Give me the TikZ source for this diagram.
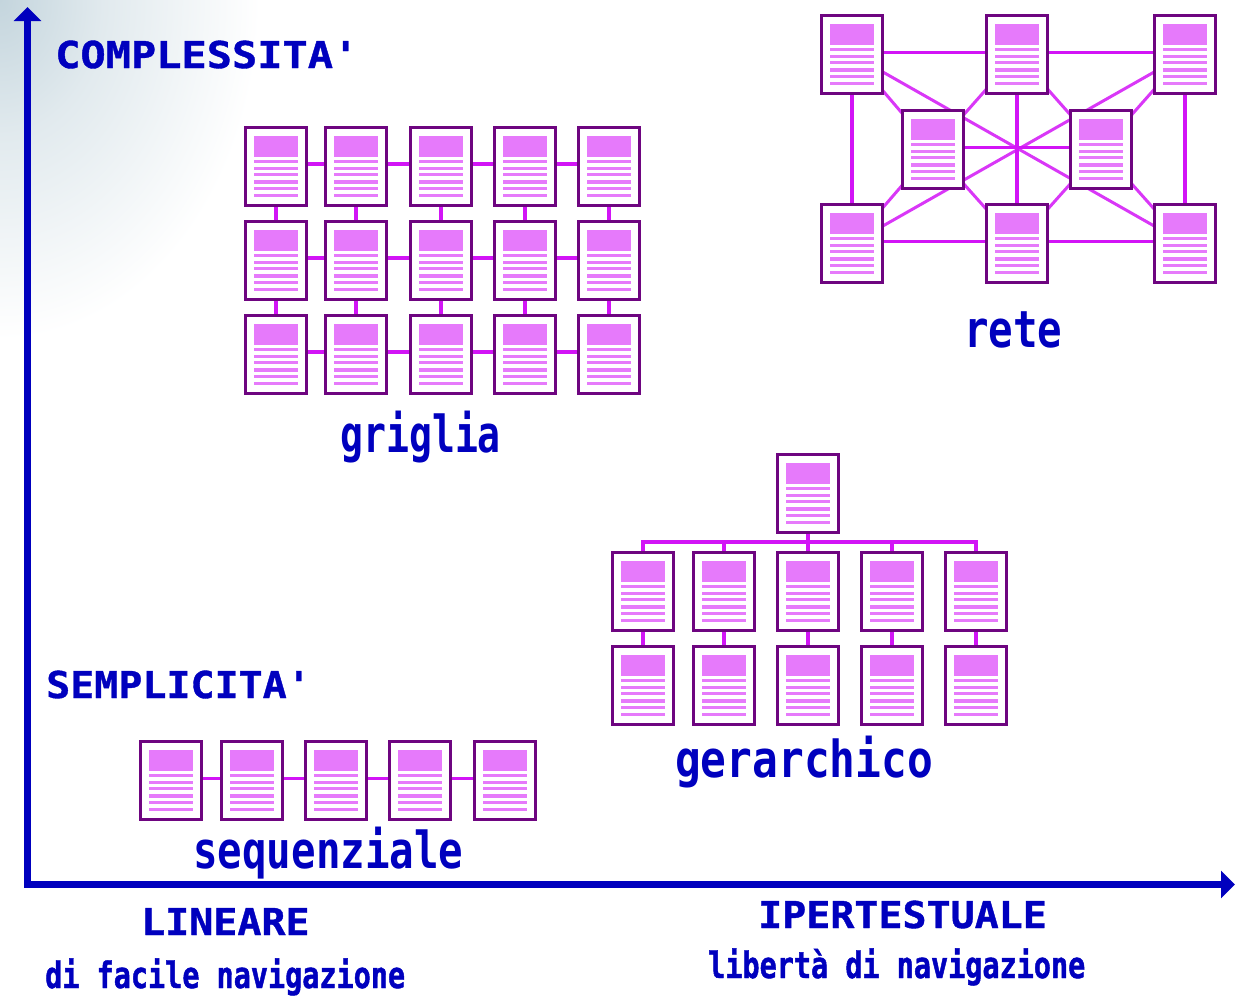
\documentclass[tikz,border=0pt]{standalone}
\usepackage{fontspec}
\usetikzlibrary{arrows.meta,backgrounds}
\newfontfamily\grandefont[FakeStretch=0.8]{DejaVu Sans Mono Bold}
\newfontfamily\piccolofont[FakeStretch=0.78,FakeBold=1.2]{DejaVu Sans Mono Bold}
\newfontfamily\maiuscfont[FakeStretch=1.08,FakeBold=1]{DejaVu Sans Mono Bold}
\definecolor{bordo}{HTML}{6E0580}
\definecolor{rosa}{HTML}{E67AFB}
\definecolor{legame}{HTML}{D214F6}
\definecolor{blu}{HTML}{0000BE}
\definecolor{sfondo}{HTML}{C4D5DD}
\pgfdeclareradialshading{alone}{\pgfpoint{0bp}{0bp}}{color(0bp)=(sfondo); color(10bp)=(sfondo!50!white); color(25bp)=(white); color(50bp)=(white)}
\tikzset{
	pagina/.style={draw=bordo, fill=white, line width=3.4pt, inner sep=0pt, minimum width=60.6pt, minimum height=77.6pt,
		path picture={
			\fill[rosa] ([shift={(-22pt,9.5pt)}]path picture bounding box.center) rectangle ([shift={(22pt,30.5pt)}]path picture bounding box.center);
			\foreach \l in {5.2,-1.8,-8.2,-15.5,-21.8,-28.8}
				\fill[rosa] ([shift={(-22pt,\l pt-1.7pt)}]path picture bounding box.center) rectangle ([shift={(22pt,\l pt+1.7pt)}]path picture bounding box.center);
		}},
	legame/.style={draw=legame, line width=3.4pt},
	diagonale/.style={draw=legame!85!white, line width=3pt},
	asse/.style={draw=blu, line width=7pt, {Triangle[length=14pt,width=27pt]}-{Triangle[length=14pt,width=27pt]}},
	grande/.style={text=blu, anchor=base west, inner sep=0pt, font=\fontsize{51}{51}\grandefont},
	piccolo/.style={text=blu, anchor=base west, inner sep=0pt, font=\fontsize{36.5}{36.5}\piccolofont},
	maiusc/.style={text=blu, anchor=base west, inner sep=0pt, font=\fontsize{37}{37}\maiuscfont}
}
\begin{document}
\begin{tikzpicture}[x=1pt, y=-1pt]
	\useasboundingbox (0,0) rectangle (1235,996);
	% griglia
	\foreach \y [count=\r] in {166.5,260.5,354.5}
		\foreach \x [count=\c] in {276,356,441,525,609}
			\node[pagina] (G\r\c) at (\x,\y) {};
	\foreach \r in {1,2,3}
		\foreach \c/\d in {1/2,2/3,3/4,4/5}
			\draw[legame] ([yshift=2.5pt]G\r\c.east)--([yshift=2.5pt]G\r\d.west);
	\foreach \c in {1,...,5}
		\draw[legame] (G1\c.south)--(G2\c.north) (G2\c.south)--(G3\c.north);
	% rete
	\node[pagina] (R1) at (852,54.5) {};
	\node[pagina] (R2) at (1017,54.5) {};
	\node[pagina] (R3) at (1185,54.5) {};
	\node[pagina] (R4) at (933,149.5) {};
	\node[pagina] (R5) at (1101,149.5) {};
	\node[pagina] (R6) at (852,243.5) {};
	\node[pagina] (R7) at (1017,243.5) {};
	\node[pagina] (R8) at (1185,243.5) {};
	\foreach \a/\b in {R1/R2,R2/R3,R6/R7,R7/R8,R4/R5}
		\draw[legame] ([yshift=2pt]\a.east)--([yshift=2pt]\b.west);
	\foreach \a/\b in {R1/R6,R2/R7,R3/R8}
		\draw[legame] (\a.south)--(\b.north);
	% gerarchico
	\node[pagina] (H0) at (808,493.5) {};
	\coordinate (B0) at (808,542);
	\foreach \x [count=\c] in {643,724,808,892,976} {
		\node[pagina] (H1\c) at (\x,591.5) {};
		\node[pagina] (H2\c) at (\x,685.5) {};
		\coordinate (B\c) at (\x,542);
		\draw[legame] (B\c)--(H1\c.north) (H1\c.south)--(H2\c.north);
	}
	\draw[legame, line width=4pt, line cap=rect] (B1)--(B5);
	\draw[legame, line width=4pt] (H0.south)--(B0);
	% sequenziale
	\foreach \x [count=\c] in {171,252,336,420,505}
		\node[pagina] (S\c) at (\x,780.5) {};
	\foreach \c/\d in {1/2,2/3,3/4,4/5}
		\draw[legame] ([yshift=2pt]S\c.east)--([yshift=2pt]S\d.west);
	% sfondo e diagonali
	\begin{scope}[on background layer]
		\clip (0,0) rectangle (1235,996);
		\shade[shading=alone] (0,0) ellipse (260 and 340);
		\draw[diagonale] (R1.center)--(R8.center) (R3.center)--(R6.center);
		\foreach \a/\b in {R1/R4,R2/R4,R2/R5,R3/R5,R6/R4,R7/R4,R7/R5,R8/R5}
			\draw[diagonale] (\a.center)--(\b.center);
	\end{scope}
	% assi
	\coordinate (O) at (27.5,884.5);
	\coordinate (Y) at (27.5,7);
	\coordinate (X) at (1235,884.5);
	\draw[asse] (Y)--(O)--(X);
	% testi
	\node[maiusc] (complessita) at (55,68) {\scalebox{1.05}[1]{COMPLESSITA'}};
	\node[maiusc] (semplicita) at (46,698) {SEMPLICITA'};
	\node[maiusc] (lineare) at (141,935) {LINEARE};
	\node[maiusc] (ipertestuale) at (758,928) {IPERTESTUALE};
	\node[grande] (griglia) at (340,452) {\scalebox{.935}[1]{griglia}};
	\node[grande] (rete) at (964,347) {rete};
	\node[grande] (gerarchico) at (675,777) {\scalebox{1.05}[1]{gerarchico}};
	\node[grande] (sequenziale) at (193,868) {sequenziale};
	\node[piccolo] (facile) at (45,988) {di facile navigazione};
	\node[piccolo] (liberta) at (708,978) {libertà di navigazione};
\end{tikzpicture}
\end{document}
